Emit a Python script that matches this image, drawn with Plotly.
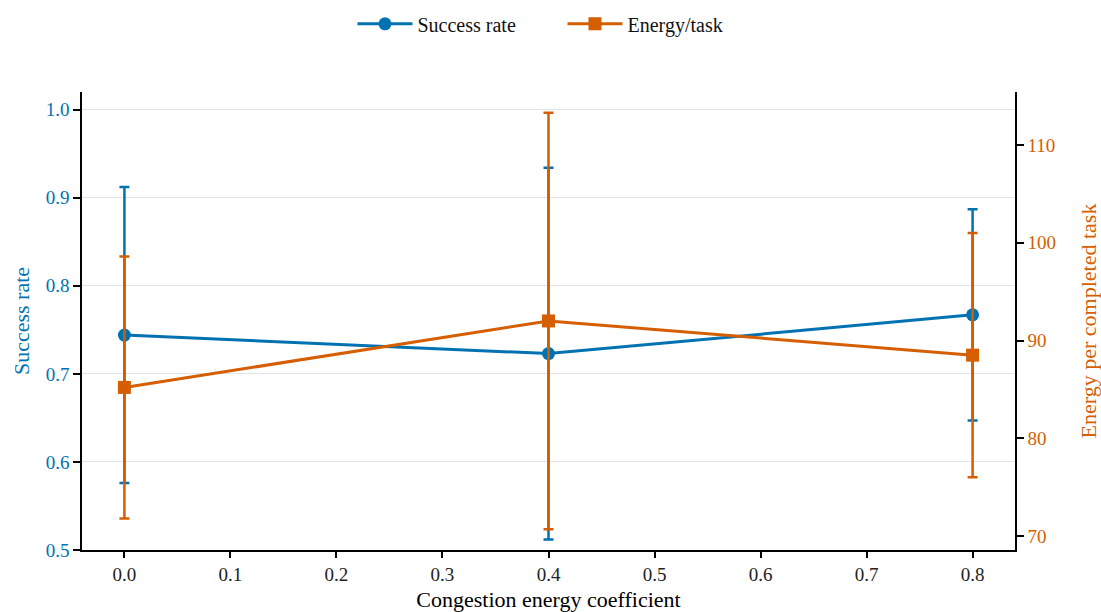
import plotly.graph_objects as go

# Congestion energy coefficient sweep
coefficients = [0.0, 0.4, 0.8]

# Success rate (mean ± std)
success_mean = [0.744, 0.723, 0.767]
success_err = [0.168, 0.211, 0.120]

# Energy per completed task (mean ± std)
energy_mean = [85.2, 92.0, 88.5]
energy_err = [13.4, 21.3, 12.5]

BLUE = "#0072B2"
ORANGE = "#D55E00"
FONT = "'Liberation Serif', 'Times New Roman', Times, serif"

fig = go.Figure()

fig.add_trace(go.Scatter(
    x=coefficients, y=success_mean, name="Success rate",
    mode="lines+markers",
    line=dict(color=BLUE, width=3),
    marker=dict(symbol="circle", size=13, color=BLUE),
    error_y=dict(type="data", array=success_err, color=BLUE, thickness=2.5, width=5),
    yaxis="y",
))

fig.add_trace(go.Scatter(
    x=coefficients, y=energy_mean, name="Energy/task",
    mode="lines+markers",
    line=dict(color=ORANGE, width=3),
    marker=dict(symbol="square", size=13, color=ORANGE),
    error_y=dict(type="data", array=energy_err, color=ORANGE, thickness=2.5, width=5),
    yaxis="y2",
))

fig.update_layout(
    width=1101, height=612,
    margin=dict(l=82, r=86, t=92, b=62, autoexpand=False),
    paper_bgcolor="white",
    plot_bgcolor="white",
    font=dict(family=FONT, size=20, color="black"),
    legend=dict(
        orientation="h", x=0.515, xanchor="center", y=0.961, yanchor="middle",
        yref="container", font=dict(family=FONT, size=20, color="#111"),
        itemwidth=55, entrywidth=140, entrywidthmode="pixels",
    ),
    xaxis=dict(
        range=[-0.04, 0.84],
        tickvals=[0.0, 0.1, 0.2, 0.3, 0.4, 0.5, 0.6, 0.7, 0.8],
        ticktext=["0.0", "0.1", "0.2", "0.3", "0.4", "0.5", "0.6", "0.7", "0.8"],
        showgrid=False, zeroline=False, automargin=False,
        showline=True, linecolor="black", linewidth=1.5,
        ticks="outside", ticklen=6, tickwidth=1.5, tickcolor="black",
        tickfont=dict(family=FONT, size=19, color="#222"),
        title=dict(text="Congestion energy coefficient", font=dict(family=FONT, size=22), standoff=8),
    ),
    yaxis=dict(
        range=[0.5, 1.02],
        tickvals=[0.5, 0.6, 0.7, 0.8, 0.9, 1.0],
        ticktext=["0.5", "0.6", "0.7", "0.8", "0.9", "1.0"],
        showgrid=True, gridcolor="#e3e3e8", gridwidth=1,
        zeroline=False, automargin=False,
        showline=True, linecolor="black", linewidth=1.5,
        ticks="outside", ticklen=7, tickwidth=1.5, tickcolor="black",
        tickfont=dict(family=FONT, size=19, color=BLUE),
        title=dict(text="Success rate", font=dict(family=FONT, size=22, color=BLUE), standoff=10),
    ),
    yaxis2=dict(
        overlaying="y", side="right",
        range=[68.57, 115.42],
        tickvals=[70, 80, 90, 100, 110],
        showgrid=False, zeroline=False, automargin=False,
        showline=True, linecolor="black", linewidth=1.5,
        ticks="outside", ticklen=7, tickwidth=1.5, tickcolor="black",
        tickfont=dict(family=FONT, size=19, color=ORANGE),
        title=dict(text="Energy per completed task", font=dict(family=FONT, size=22, color=ORANGE), standoff=26),
    ),
)

fig.write_html("out.html")
